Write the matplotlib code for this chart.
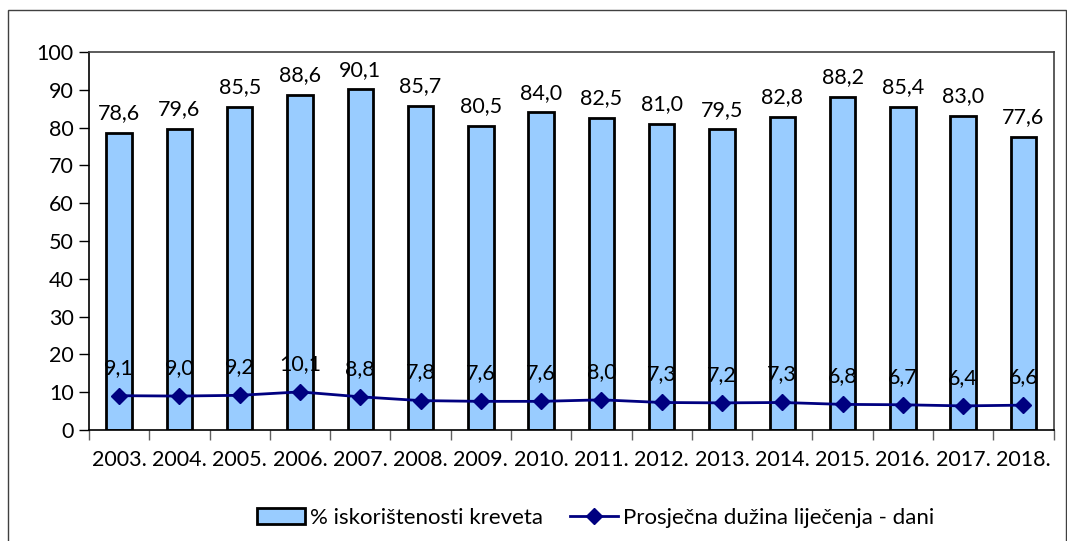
import matplotlib.pyplot as plt
from matplotlib.patches import Rectangle
import numpy as np

godine = ["2003.", "2004.", "2005.", "2006.", "2007.", "2008.", "2009.", "2010.",
          "2011.", "2012.", "2013.", "2014.", "2015.", "2016.", "2017.", "2018."]
iskoristenost = [78.6, 79.6, 85.5, 88.6, 90.1, 85.7, 80.5, 84.0,
                 82.5, 81.0, 79.5, 82.8, 88.2, 85.4, 83.0, 77.6]
duzina_lijecenja = [9.1, 9.0, 9.2, 10.1, 8.8, 7.8, 7.6, 7.6,
                    8.0, 7.3, 7.2, 7.3, 6.8, 6.7, 6.4, 6.6]

plt.rcParams["font.family"] = ["Lato", "DejaVu Sans"]

fig = plt.figure(figsize=(10.67, 5.41), dpi=100)
fig.patches.append(Rectangle((0.0075, -0.05), 0.9915, 1.0315, transform=fig.transFigure,
                             fill=False, edgecolor="#404040", linewidth=1.0))
ax = fig.add_axes([0.0834, 0.205, 0.904, 0.699])

x = np.arange(len(godine))
stupci = ax.bar(x, iskoristenost, width=0.42, color="#99CCFF", edgecolor="black",
                linewidth=2, label="% iskorištenosti kreveta", zorder=2)
linija, = ax.plot(x, duzina_lijecenja, color="#000080", linewidth=2, marker="D", markersize=8,
                  label="Prosječna dužina liječenja - dani", zorder=3)

def fmt(v):
    return f"{v:.1f}".replace(".", ",")

for xi, v in zip(x, iskoristenost):
    ax.annotate(fmt(v), (xi, v), xytext=(0, 7), textcoords="offset points",
                ha="center", va="bottom", fontsize=15.5)
for xi, v in zip(x, duzina_lijecenja):
    ax.annotate(fmt(v), (xi, v), xytext=(0, 13), textcoords="offset points",
                ha="center", va="bottom", fontsize=15.5)

ax.set_xlim(-0.5, len(godine) - 0.5)
ax.set_ylim(0, 100)
ax.set_yticks(range(0, 101, 10))
ax.set_xticks(x)
ax.set_xticklabels(godine)
ax.set_xticks(np.arange(-0.5, len(godine), 1.0), minor=True)
ax.tick_params(axis="x", which="major", length=0, pad=14, labelsize=15.5)
ax.tick_params(axis="x", which="minor", length=7, width=1, color="#606060")
ax.tick_params(axis="y", length=7, width=1, labelsize=15.5, pad=4)
for s in ax.spines.values():
    s.set_linewidth(1.2)
    s.set_color("#404040")
ax.spines["left"].set_color("black")
ax.spines["bottom"].set_color("black")

fig.legend(handles=[stupci, linija], loc="center", bbox_to_anchor=(0.558, 0.043), ncol=2,
           frameon=False, fontsize=16, handlelength=2.2, handletextpad=0.2, columnspacing=1.2)

fig.savefig("out.png", dpi=100)
